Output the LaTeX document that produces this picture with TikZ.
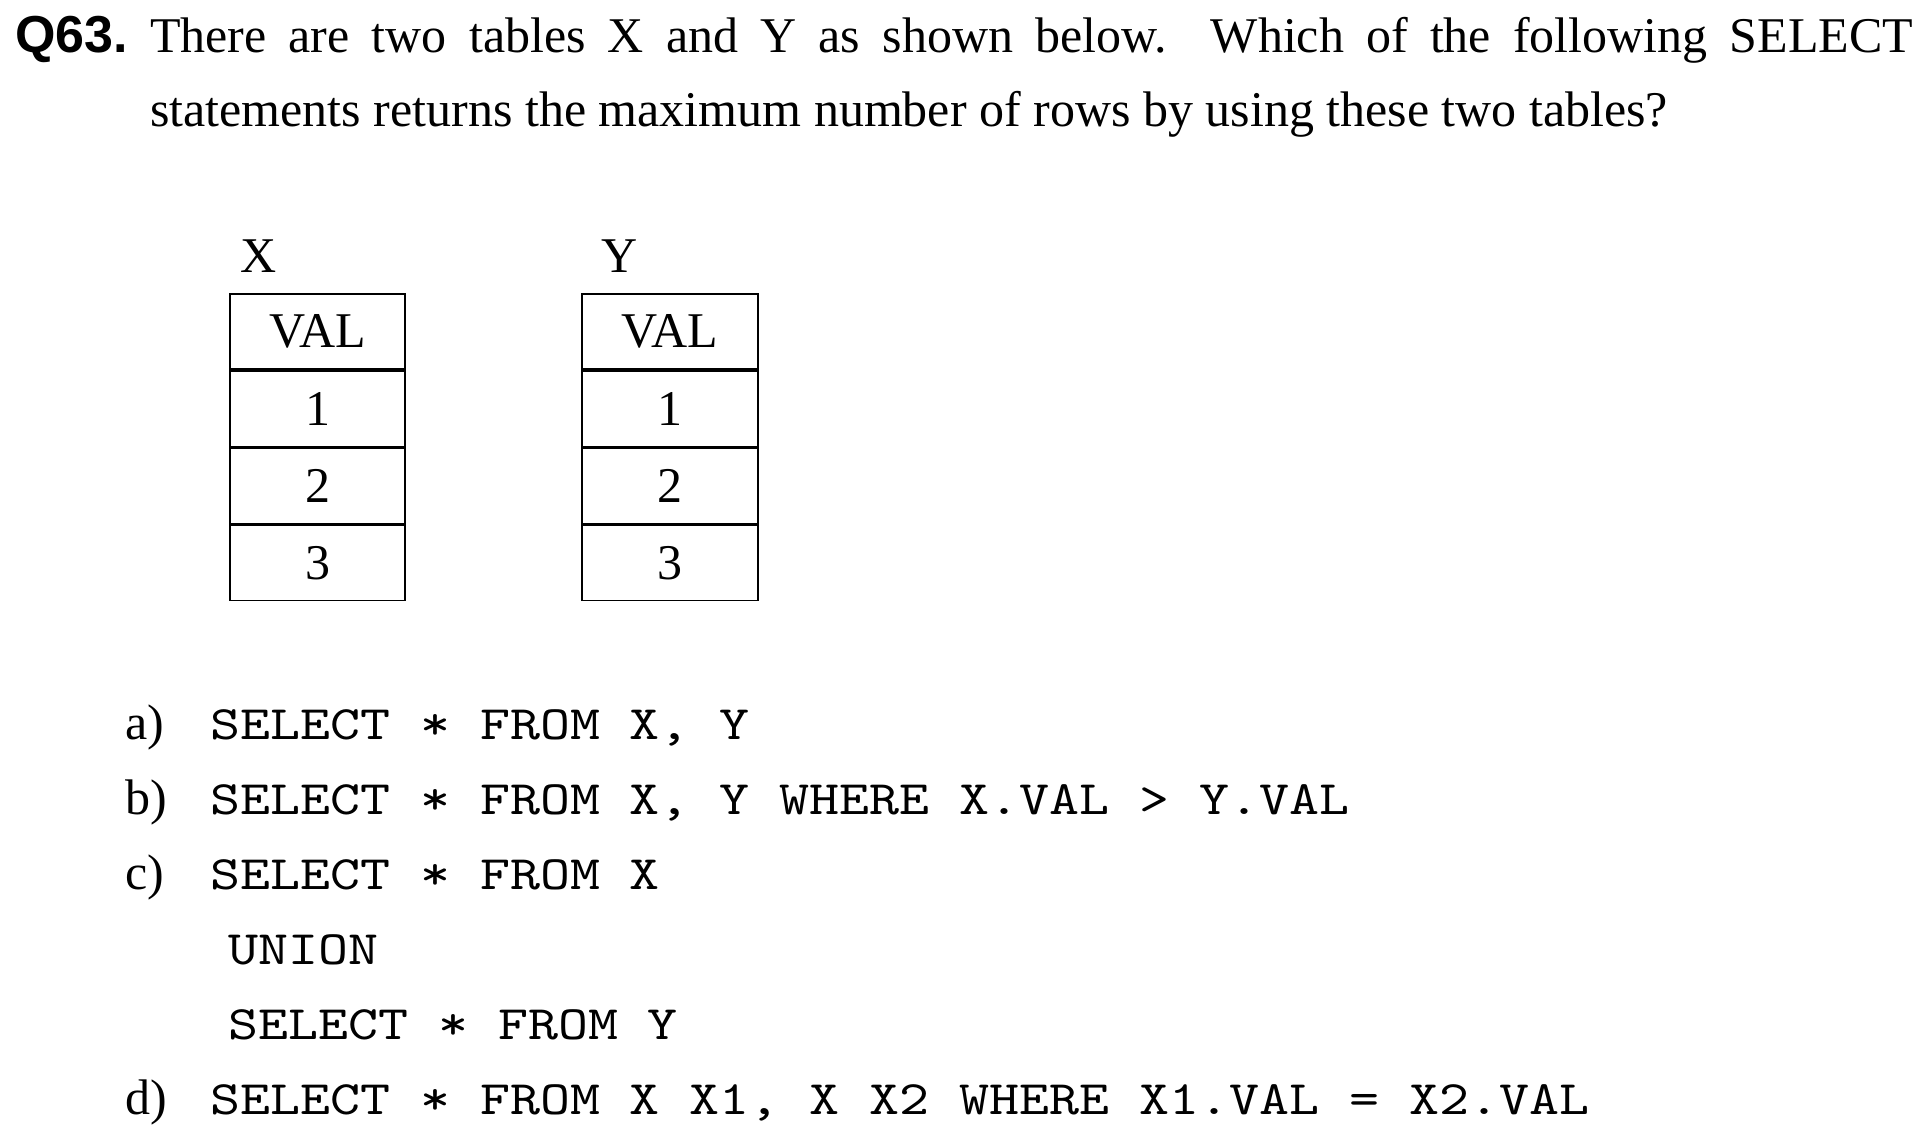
\documentclass[tikz,border=0pt]{standalone}
\usepackage{fontspec}
\setmainfont{Liberation Serif}
\setsansfont{Liberation Sans}
\setmonofont{lmmono10-regular.otf}[FakeStretch=1.19]
\usetikzlibrary{positioning}

\begin{document}
\begin{tikzpicture}[x=1pt,y=-1pt,
    txt/.style={anchor=base west,inner sep=0pt,font={\fontsize{50}{50}\selectfont\frenchspacing}},
    code/.style={anchor=base west,inner sep=0pt,font={\fontsize{48}{48}\selectfont\ttfamily}},
    cell/.style={draw,line width=1.6pt,minimum width=175.5pt,minimum height=75.5pt,inner sep=0pt,font={\fontsize{50}{50}\selectfont}}]
                \useasboundingbox (0,0) rectangle (1919,1139);

                \node[txt] (qline1) at (15,53) {\makebox[1898pt][s]{\fontsize{52}{52}\selectfont\sffamily\bfseries Q63.\fontsize{50}{50}\selectfont\rmfamily\mdseries{} There are two tables X and Y as shown below.\hspace{22pt} Which of the following SELECT}};
                \node[txt] (qline2) at (150,127) {statements returns the maximum number of rows by using these two tables?};

                \node[txt] (lblX) at (240,273) {X};
                \node[txt] (lblY) at (601,273) {Y};

                \node[cell,anchor=north] (xhead) at (317.5,293) {VAL};
                \node[cell,below=0pt of xhead] (xrow1) {1};
                \node[cell,below=0pt of xrow1] (xrow2) {2};
                \node[cell,below=0pt of xrow2] (xrow3) {3};

                \node[cell,anchor=north] (yhead) at (670,293) {VAL};
                \node[cell,below=0pt of yhead] (yrow1) {1};
                \node[cell,below=0pt of yrow1] (yrow2) {2};
                \node[cell,below=0pt of yrow2] (yrow3) {3};

                \node[txt] (optA) at (125,739) {a)};
                \node[code] (sqlA) at (210,739) {SELECT * FROM X, Y};
                \node[txt] (optB) at (125,814) {b)};
                \node[code] (sqlB) at (210,814) {SELECT * FROM X, Y WHERE X.VAL > Y.VAL};
                \node[txt] (optC) at (125,889) {c)};
                \node[code] (sqlC) at (210,889) {SELECT * FROM X};
                \node[code] (sqlCunion) at (228,964) {UNION};
                \node[code] (sqlCsel) at (228,1039) {SELECT * FROM Y};
                \node[txt] (optD) at (125,1114) {d)};
                \node[code] (sqlD) at (210,1114) {SELECT * FROM X X1, X X2 WHERE X1.VAL = X2.VAL};
            \end{tikzpicture}
\end{document}
